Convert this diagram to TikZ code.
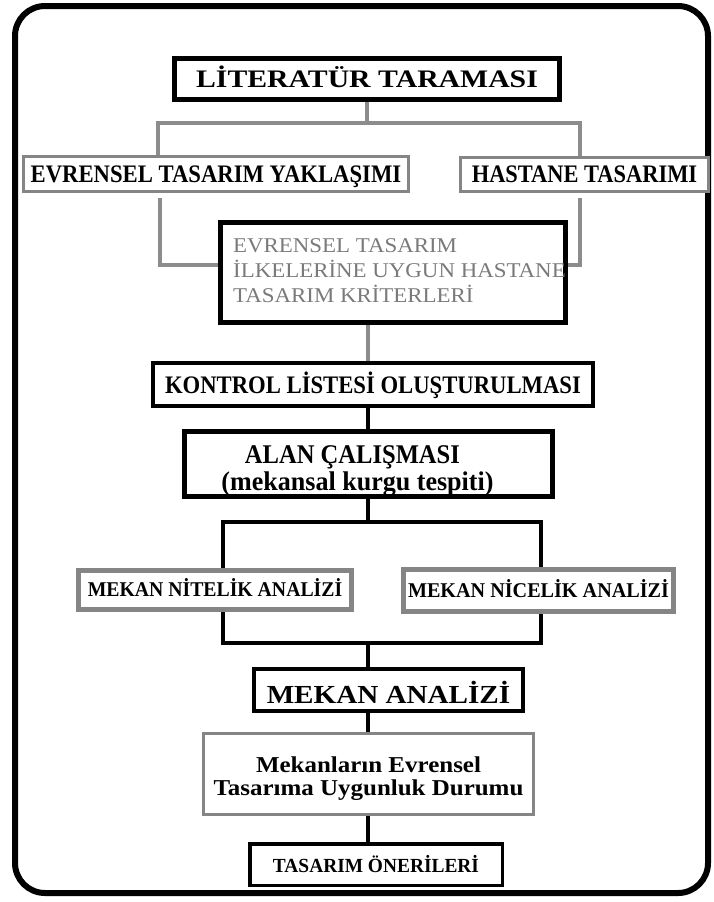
\documentclass[tikz,border=0pt]{standalone}
\usepackage{fontspec}
\setmainfont{Liberation Serif}
\usetikzlibrary{backgrounds}
\definecolor{linegray}{HTML}{8C8C8C}
\definecolor{boxgray}{HTML}{858585}
\definecolor{textgray}{HTML}{7A7A7A}
\newcommand{\fs}[2]{\fontsize{#1pt}{#2pt}\selectfont}
\newcommand{\sx}[2]{{\addfontfeatures{FakeStretch=#1}#2}}
\tikzset{
  bx/.style={inner sep=0pt, fill=white, align=center, text depth=0pt},
  blk/.style={bx, draw=black},
  gry/.style={bx, draw=boxgray},
  gline/.style={draw=linegray, line width=4pt},
  bline/.style={draw=black, line width=4pt},
}
\begin{document}
\begin{tikzpicture}[x=1pt,y=-1pt]
\useasboundingbox (0,0) rectangle (713,902);
% outer frame
\draw[line width=6pt, rounded corners=30pt] (15,6) rectangle (708,893);

% nodes
\node[blk, line width=5pt, minimum width=385pt, minimum height=41pt, text height=16pt, font=\bfseries\fs{25.2}{30}] (lit) at (367,79) {\sx{1.18}{LİTERATÜR TARAMASI}};
\node[gry, line width=3pt, minimum width=385pt, minimum height=35pt, text height=16pt, font=\bfseries\fs{25.2}{30}] (evr) at (216,174) {\sx{0.90}{EVRENSEL TASARIM YAKLAŞIMI}};
\node[gry, line width=3pt, minimum width=248pt, minimum height=34pt, text height=16pt, font=\bfseries\fs{25.2}{30}] (hast) at (584.5,174.5) {\sx{0.89}{HASTANE TASARIMI}};
\node[blk, line width=5pt, minimum width=345pt, minimum height=100pt] (crit) at (393,272.5) {};
\node[inner sep=0pt, anchor=base west, text=textgray, font=\fs{21}{24}] (crittext) at (233,302) {\begin{tabular}[b]{@{}l@{}}\sx{1.09}{EVRENSEL TASARIM}\\\sx{1.09}{İLKELERİNE UYGUN HASTANE}\\\sx{1.09}{TASARIM KRİTERLERİ}\end{tabular}};
\node[blk, line width=4pt, minimum width=440pt, minimum height=43pt, text height=17pt, font=\bfseries\fs{25.2}{30}] (kontrol) at (373,384.5) {\sx{0.90}{KONTROL LİSTESİ OLUŞTURULMASI}};
\node[blk, line width=5pt, minimum width=368pt, minimum height=65pt, text height=52pt, font=\bfseries\fs{27}{25}] (alan) at (368.5,464) {\begin{tabular}[b]{@{}c@{}}\sx{0.91}{ALAN ÇALIŞMASI}\hspace*{32pt}\\\sx{0.965}{(mekansal kurgu tespiti)}\hspace*{22pt}\end{tabular}};
\node[gry, line width=5pt, minimum width=273pt, minimum height=39pt, text height=13pt, font=\bfseries\fs{21}{25}] (nit) at (215,590) {\sx{0.94}{MEKAN NİTELİK ANALİZİ}};
\node[gry, line width=5pt, minimum width=270pt, minimum height=42pt, text height=13pt, font=\bfseries\fs{21}{25}] (nic) at (538.5,590.5) {\sx{0.96}{MEKAN NİCELİK ANALİZİ}};
\node[blk, line width=4pt, minimum width=269pt, minimum height=42pt, text height=26pt, font=\bfseries\fs{26}{30}] (ma) at (388.5,690) {\sx{1.12}{MEKAN ANALİZİ}};
\node[gry, line width=3pt, minimum width=330pt, minimum height=81pt, text height=42pt, font=\bfseries\fs{22.7}{22}] (mek) at (368.5,774) {\begin{tabular}[b]{@{}c@{}}\sx{1.10}{Mekanların Evrensel}\\\sx{1.10}{Tasarıma Uygunluk Durumu}\end{tabular}};
\node[blk, line width=3.5pt, minimum width=252.5pt, minimum height=41.5pt, text height=15pt, font=\bfseries\fs{20}{24}] (tas) at (376,864.5) {\sx{0.97}{TASARIM ÖNERİLERİ}};

% junction coordinates
\coordinate (sp) at (368,0);
\coordinate (t1) at (367,123);
\coordinate (tl) at (158,123);
\coordinate (tr) at (580,123);
\coordinate (bl) at (160,265);
\coordinate (br) at (580,265);
\coordinate (m1) at (368,522);
\coordinate (ml) at (223,522);
\coordinate (mr) at (541,522);
\coordinate (n1) at (368,643);
\coordinate (nl) at (223,643);
\coordinate (nr) at (541,643);

\begin{scope}[on background layer]
\draw[gline] (lit.south) -- (t1);
\draw[gline] (evr.north -| tl) -- (tl) -- (tr) -- (hast.north -| tr);
\draw[gline, shorten <=5pt] (evr.south -| bl) -- (bl) -- (crit.west |- bl);
\draw[gline, shorten <=5pt] (hast.south -| br) -- (br) -- (crit.east |- br);
\draw[gline] (crit.south -| sp) -- (kontrol.north -| sp);
\draw[bline] (kontrol.south -| sp) -- (alan.north -| sp);
\draw[bline] (alan.south -| sp) -- (m1);
\draw[bline] (nit.north -| ml) -- (ml) -- (mr) -- (nic.north -| mr);
\draw[bline] (nit.south -| nl) -- (nl) -- (nr) -- (nic.south -| nr);
\draw[bline] (n1) -- (ma.north -| sp);
\draw[bline] (ma.south -| sp) -- (mek.north -| sp);
\draw[bline] (mek.south -| sp) -- (tas.north -| sp);
\end{scope}
\end{tikzpicture}
\end{document}
